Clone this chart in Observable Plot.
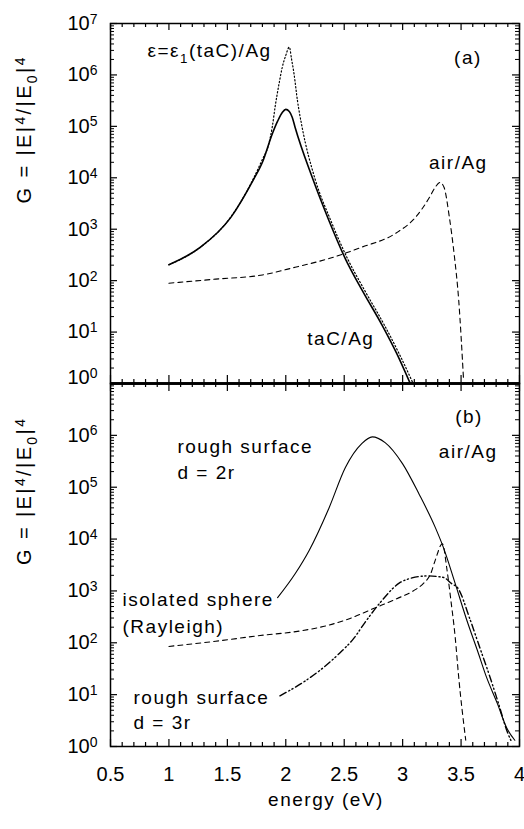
<!DOCTYPE html>
<html>
<head>
<meta charset="utf-8">
<script src="https://cdn.jsdelivr.net/npm/d3@7"></script>
<script src="https://cdn.jsdelivr.net/npm/@observablehq/plot@0.6"></script>
<style>
  body { margin: 0; background: #fff; }
  #chart { position: relative; width: 524px; height: 829px; overflow: hidden; }
  #chart svg { position: absolute; left: 0; }
  svg g[aria-label="text"] text { letter-spacing: 1.5px; }
</style>
</head>
<body>
<div id="chart"></div>
<script>
// ---------- data ----------
const xDomain = [0.5, 4];
const yDomain = [1, 1e7];
const xMajor = [0.5, 1, 1.5, 2, 2.5, 3, 3.5, 4];
const xMinor = d3.range(5, 41).map(i => i / 10).filter(v => !xMajor.some(m => Math.abs(m - v) < 1e-9));
const yMajor = [1, 10, 100, 1e3, 1e4, 1e5, 1e6, 1e7];
const yMinor = yMajor.slice(0, -1).flatMap(d => [2, 3, 4, 5, 6, 7, 8, 9].map(k => k * d));

// panel (a): taC/Ag (solid)
const taC_E = [1.0, 1.27, 1.53, 1.72, 1.80, 1.885, 1.93, 1.97, 2.00, 2.03, 2.055, 2.08, 2.226, 2.369, 2.511, 2.654, 2.825, 2.95, 3.065];
const taC_G = [204, 447, 1700, 8900, 20000, 72000, 126000, 186000, 214000, 195000, 151000, 95000, 10200, 1480, 263, 64.6, 13.5, 3.8, 1.0];
// panel (a): eps = eps1(taC)/Ag (dotted)
const eps_E = [1.0, 1.27, 1.53, 1.72, 1.80, 1.85, 1.885, 1.91, 1.94, 1.97, 2.00, 2.03, 2.05, 2.07, 2.10, 2.14, 2.25, 2.385, 2.53, 2.675, 2.845, 2.97, 3.09];
const eps_G = [204, 447, 1738, 9333, 22900, 41700, 100000, 251000, 631000, 1413000, 2399000, 3467000, 1995000, 1072000, 316000, 95500, 9550, 1480, 263, 64.6, 13.5, 3.8, 1.0];
// panel (a): air/Ag (dashed)
const air_E = [1.0, 1.4, 1.8, 2.08, 2.37, 2.65, 2.94, 3.11, 3.23, 3.28, 3.32, 3.355, 3.40, 3.44, 3.48, 3.52];
const air_G = [89, 107, 129, 182, 269, 447, 832, 1700, 4170, 6610, 8130, 6460, 1700, 339, 41, 1.32];

// panel (b): rough surface d = 2r (solid)
const r2_E = [1.93, 2.08, 2.20, 2.37, 2.51, 2.65, 2.74, 2.85, 3.00, 3.14, 3.28, 3.35, 3.45, 3.55, 3.64, 3.72, 3.81, 3.89, 3.96];
const r2_G = [741, 2140, 6030, 39800, 240000, 692000, 933000, 724000, 282000, 74100, 16600, 6760, 1380, 269, 71, 21, 6.8, 2.3, 1.32];
// panel (b): isolated sphere (Rayleigh) (dashed)
const sph_E = [1.0, 1.4, 1.78, 2.1, 2.35, 2.55, 2.75, 2.95, 3.09, 3.18, 3.24, 3.28, 3.34, 3.38, 3.41, 3.45, 3.48, 3.54];
const sph_G = [85, 107, 138, 166, 214, 295, 457, 708, 1000, 1410, 2140, 3980, 8130, 2510, 741, 126, 21.4, 1.32];
// panel (b): rough surface d = 3r (dash-dot-dot)
const r3_E = [1.95, 2.17, 2.32, 2.46, 2.58, 2.68, 2.81, 2.97, 3.08, 3.21, 3.35, 3.42, 3.47, 3.58, 3.66, 3.75, 3.82, 3.90, 3.93];
const r3_G = [9.5, 18.6, 33, 63, 120, 251, 603, 1410, 1780, 1950, 1820, 1380, 1150, 269, 81, 21, 6.8, 1.8, 1.26];

// ---------- helpers ----------
const FONT = "'Liberation Sans', Arial, Helvetica, sans-serif";
const expFmt = d => `10^{${Math.round(Math.log10(d))}}`;

function edgeTicks(frameH, topLenMaj, topLenMin, botLenMaj, botLenMin) {
  const frameW = 409;
  return [
    Plot.tickX(xMajor, {x: d => d, insetBottom: frameH - topLenMaj, strokeWidth: 1.2}),
    Plot.tickX(xMinor, {x: d => d, insetBottom: frameH - topLenMin, strokeWidth: 1.2}),
    Plot.tickX(xMajor, {x: d => d, insetTop: frameH - botLenMaj, strokeWidth: 1.2}),
    Plot.tickX(xMinor, {x: d => d, insetTop: frameH - botLenMin, strokeWidth: 1.2}),
    Plot.tickY(yMajor, {y: d => d, insetRight: frameW - 7, strokeWidth: 1.2}),
    Plot.tickY(yMinor, {y: d => d, insetRight: frameW - 4, strokeWidth: 1}),
    Plot.tickY(yMajor, {y: d => d, insetLeft: frameW - 7, strokeWidth: 1.2}),
    Plot.tickY(yMinor, {y: d => d, insetLeft: frameW - 4, strokeWidth: 1})
  ];
}

const yLabel = Plot.text(["G = |E|^{4}/|E_{0}|^{4}"], {
  frameAnchor: "left", dx: -85.5, rotate: -90, fontSize: 20, lineAnchor: "middle"
});

const common = {
  width: 524, marginLeft: 110, marginRight: 5,
  style: {background: "transparent", fontFamily: FONT, fontSize: "20px", color: "black"},
  x: {domain: xDomain, axis: null},
  y: {type: "log", domain: yDomain, axis: null}
};

// ---------- panel (a) ----------
const topPlot = Plot.plot({
  ...common,
  height: 390, marginTop: 23, marginBottom: 7,
  marks: [
    Plot.line(air_E, {x: air_E, y: air_G, curve: "monotone-x", stroke: "black", strokeWidth: 1.1, strokeDasharray: "5,4", clip: true}),
    Plot.line(eps_E, {x: eps_E, y: eps_G, curve: "monotone-x", stroke: "black", strokeWidth: 1.2, strokeDasharray: "1.3,2.2", clip: true}),
    Plot.line(taC_E, {x: taC_E, y: taC_G, curve: "monotone-x", stroke: "black", strokeWidth: 1.6, clip: true}),
    Plot.frame({stroke: "black", strokeWidth: 1.5}),
    Plot.ruleY([1], {stroke: "black", strokeWidth: 2.6}),
    ...edgeTicks(360, 7, 4, 8, 4),
    Plot.axisY(yMajor.slice(1), {tickSize: 0, tickPadding: 13, tickFormat: expFmt, fontSize: 20}),
    Plot.axisY([1], {tickSize: 0, tickPadding: 13, tickFormat: expFmt, fontSize: 20, dy: -6}),
    yLabel,
    Plot.text(["ε=ε_{1}(taC)/Ag"], {x: [0.816], y: [2.2e6], textAnchor: "start", lineAnchor: "bottom", fontSize: 19}),
    Plot.text(["(a)"], {x: [3.44], y: [1.66e6], textAnchor: "start", lineAnchor: "bottom", fontSize: 19}),
    Plot.text(["air/Ag"], {x: [3.226], y: [15100], textAnchor: "start", lineAnchor: "bottom", fontSize: 19}),
    Plot.text(["taC/Ag"], {x: [2.184], y: [5.5], textAnchor: "start", lineAnchor: "bottom", fontSize: 19})
  ]
});

// ---------- panel (b) ----------
const bottomPlot = Plot.plot({
  ...common,
  height: 453, marginTop: 7, marginBottom: 83,
  marks: [
    Plot.line(sph_E, {x: sph_E, y: sph_G, curve: "monotone-x", stroke: "black", strokeWidth: 1.1, strokeDasharray: "5,4", clip: true}),
    Plot.line(r3_E, {x: r3_E, y: r3_G, curve: "monotone-x", stroke: "black", strokeWidth: 1.4, strokeDasharray: "7,3,1.2,2.5,1.2,3", clip: true}),
    Plot.line(r2_E, {x: r2_E, y: r2_G, curve: "monotone-x", stroke: "black", strokeWidth: 1.1, clip: true}),
    Plot.frame({stroke: "black", strokeWidth: 1.5}),
    Plot.ruleY([1e7], {stroke: "black", strokeWidth: 2.6}),
    ...edgeTicks(363, 8, 4, 7, 4),
    Plot.axisY(yMajor.slice(0, -1), {tickSize: 0, tickPadding: 13, tickFormat: expFmt, fontSize: 20}),
    Plot.axisX(xMajor, {tickSize: 0, tickPadding: 20, tickFormat: d => String(d), fontSize: 20}),
    Plot.text(["energy (eV)"], {frameAnchor: "bottom", dx: 11, dy: 59, lineAnchor: "bottom", fontSize: 19}),
    yLabel,
    Plot.text(["(b)"], {x: [3.45], y: [1.74e6], textAnchor: "start", lineAnchor: "bottom", fontSize: 19}),
    Plot.text(["air/Ag"], {x: [3.31], y: [3.7e5], textAnchor: "start", lineAnchor: "bottom", fontSize: 19}),
    Plot.text(["rough surface\nd = 2r"], {x: [1.073], y: [1.45e5], textAnchor: "start", lineAnchor: "bottom", lineHeight: 1.35, fontSize: 19}),
    Plot.text(["isolated sphere\n(Rayleigh)"], {x: [0.603], y: [157], textAnchor: "start", lineAnchor: "bottom", lineHeight: 1.4, fontSize: 19}),
    Plot.text(["rough surface\nd = 3r"], {x: [0.697], y: [2.22], textAnchor: "start", lineAnchor: "bottom", lineHeight: 1.3, fontSize: 19})
  ]
});

const chart = document.getElementById("chart");
topPlot.style.top = "0px";
bottomPlot.style.top = "376px";
chart.appendChild(topPlot);
chart.appendChild(bottomPlot);

// ---------- rich text: ^{sup} and _{sub} ----------
const NS = "http://www.w3.org/2000/svg";
function richify(svg) {
  for (const t of svg.querySelectorAll("text")) {
    const targets = t.querySelector("tspan") ? [...t.querySelectorAll("tspan")] : [t];
    for (const el of targets) {
      const s = el.textContent;
      if (!/[\^_]\{/.test(s)) continue;
      const fs = parseFloat(getComputedStyle(el).fontSize) || 20;
      el.textContent = "";
      let shift = 0;
      const add = (txt, kind) => {
        const ts = document.createElementNS(NS, "tspan");
        let target = 0;
        if (kind === "^") { target = -0.32 * fs; ts.setAttribute("font-size", (0.7 * fs).toFixed(1)); }
        else if (kind === "_") { target = 0.28 * fs; ts.setAttribute("font-size", (0.7 * fs).toFixed(1)); }
        const d = target - shift;
        if (d) ts.setAttribute("dy", d.toFixed(2));
        shift = target;
        ts.textContent = txt;
        el.appendChild(ts);
      };
      const re = /([\^_])\{([^}]*)\}/g;
      let last = 0, m;
      while ((m = re.exec(s))) {
        if (m.index > last) add(s.slice(last, m.index), null);
        add(m[2], m[1]);
        last = re.lastIndex;
      }
      if (last < s.length) add(s.slice(last), null);
    }
    if (t.textContent.startsWith("G =")) t.style.letterSpacing = "2.4px";
  }
}
richify(topPlot);
richify(bottomPlot);
</script>
</body>
</html>
